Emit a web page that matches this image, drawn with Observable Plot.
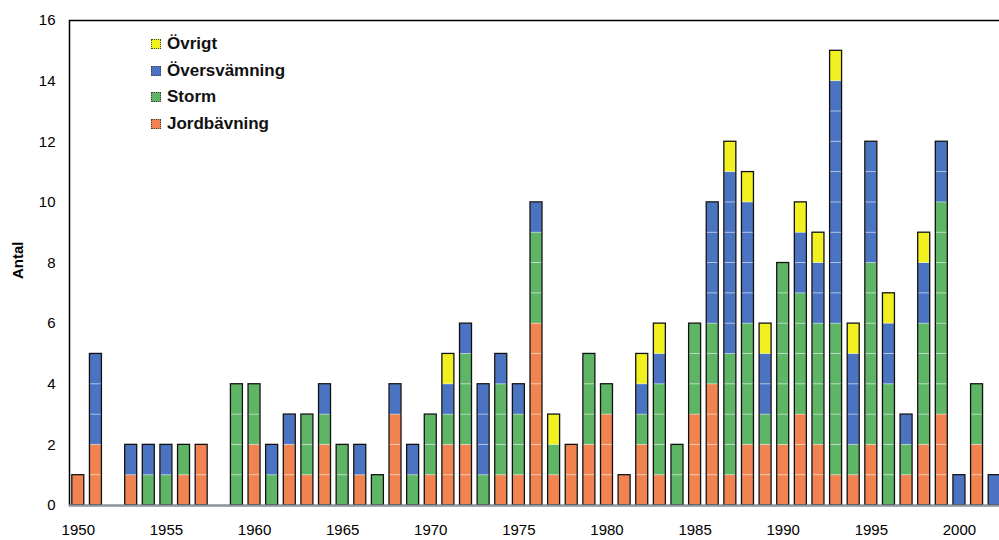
<!DOCTYPE html>
<html>
<head>
<meta charset="utf-8">
<script src="https://cdn.jsdelivr.net/npm/d3@7"></script>
<script src="https://cdn.jsdelivr.net/npm/@observablehq/plot@0.6"></script>
<style>
  body { margin: 0; background: white; }
  #wrap { position: relative; width: 999px; height: 540px; overflow: hidden; font-family: "Liberation Sans", Arial, sans-serif; }
  #legend { position: absolute; left: 151px; top: 31px; }
  .item { display: flex; align-items: center; height: 26.5px; font-weight: bold; font-size: 17px; color: #111; }
  .sw { width: 8px; height: 8px; border: 1px dotted #444; margin-right: 6px; }
</style>
</head>
<body>
<div id="wrap"></div>
<script>
const years = [1950,1951,1952,1953,1954,1955,1956,1957,1958,1959,
  1960,1961,1962,1963,1964,1965,1966,1967,1968,1969,
  1970,1971,1972,1973,1974,1975,1976,1977,1978,1979,
  1980,1981,1982,1983,1984,1985,1986,1987,1988,1989,
  1990,1991,1992,1993,1994,1995,1996,1997,1998,1999,
  2000,2001,2002];
const jordbavning  = [1,2,0,1,0,0,1,2,0,0, 2,0,2,1,2,0,1,0,3,0, 1,2,2,0,1,1,6,1,2,2, 3,1,2,1,0,3,4,1,2,2, 2,3,2,1,1,2,0,1,2,3, 0,2,0];
const storm        = [0,0,0,0,1,1,1,0,0,4, 2,1,0,2,1,2,0,1,0,1, 2,1,3,1,3,2,3,1,0,3, 1,0,1,3,2,3,2,4,4,1, 6,4,4,5,1,6,4,1,4,7, 0,2,0];
const oversvamning = [0,3,0,1,1,1,0,0,0,0, 0,1,1,0,1,0,1,0,1,1, 0,1,1,3,1,1,1,0,0,0, 0,0,1,1,0,0,4,6,4,2, 0,2,2,8,3,4,2,1,2,2, 1,0,1];
const ovrigt       = [0,0,0,0,0,0,0,0,0,0, 0,0,0,0,0,0,0,0,0,0, 0,1,0,0,0,0,0,1,0,0, 0,0,1,1,0,0,0,1,1,1, 0,1,1,1,1,0,1,0,1,0, 0,0,0];
const categories = ["Jordbävning", "Storm", "Översvämning", "Övrigt"];
const colors = ["#f0834f", "#5db565", "#4a73c2", "#f2f01e"];
const xTicks = [1950,1955,1960,1965,1970,1975,1980,1985,1990,1995,2000];
const yTicks = [0,2,4,6,8,10,12,14,16];

const series = [jordbavning, storm, oversvamning, ovrigt];
// one row per counted event (unit block), stacked by category
const units = [];
years.forEach((yr, i) => {
  categories.forEach((c, j) => {
    for (let k = 0; k < series[j][i]; k++) units.push({year: yr, cat: c});
  });
});

const chart = Plot.plot({
  width: 999, height: 540,
  marginLeft: 69, marginRight: -4, marginTop: 20, marginBottom: 35,
  style: {fontFamily: "'Liberation Sans', Arial, sans-serif", fontSize: "15px", background: "white", color: "black"},
  x: {type: "band", domain: years, paddingInner: 0.32, paddingOuter: 0.16, axis: null},
  y: {domain: [0, 16], axis: null},
  color: {domain: categories, range: colors},
  marks: [
    Plot.barY(units, {x: "year", y: () => 1, fill: "cat", order: categories, stroke: "white", strokeOpacity: 0.35, strokeWidth: 1}),
    Plot.barY(units, Plot.groupX({y: "count"}, {x: "year", fill: "none", stroke: "#111", strokeWidth: 1.3})),
    Plot.frame({stroke: "black", strokeWidth: 1.5}),
    Plot.ruleY([0], {stroke: "#8d98a4", strokeWidth: 2}),
    Plot.axisX({ticks: xTicks, tickSize: 0, tickPadding: 19, tickFormat: d => String(d), fontSize: 15, label: null}),
    Plot.axisY({ticks: yTicks, tickSize: 0, tickPadding: 14, fontSize: 15, label: null}),
    Plot.text(["Antal"], {frameAnchor: "left", dx: -51, dy: 16, rotate: -90, fontWeight: "bold", fontSize: 15})
  ]
});
const wrap = document.getElementById("wrap");
wrap.appendChild(chart);

const legend = document.createElement("div");
legend.id = "legend";
[3, 2, 1, 0].forEach(j => {
  const it = document.createElement("div");
  it.className = "item";
  const sw = document.createElement("span");
  sw.className = "sw";
  sw.style.background = colors[j];
  const tx = document.createElement("span");
  tx.textContent = categories[j];
  it.appendChild(sw); it.appendChild(tx);
  legend.appendChild(it);
});
wrap.appendChild(legend);
</script>
</body>
</html>
